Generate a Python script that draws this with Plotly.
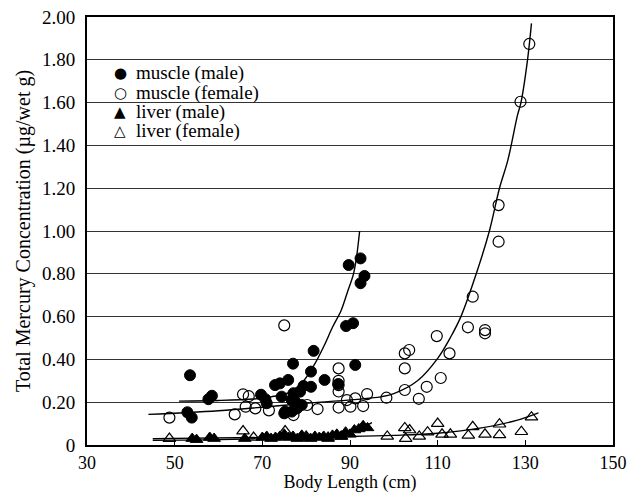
import plotly.graph_objects as go

# ---- data ----
male_muscle_x = [53.5, 52.9, 53.9, 57.7, 58.5, 69.7, 70.7, 71.0, 72.9, 74.0, 75.9, 77.0, 75.0, 74.4,
                 77.1, 78.6, 76.7, 77.5, 77.9, 75.2, 76.7, 79.0, 79.4, 81.1, 81.1, 81.7, 84.2,
                 87.3, 91.2, 89.1, 90.7, 89.7, 92.4, 93.3, 92.4]
male_muscle_y = [0.326, 0.153, 0.128, 0.214, 0.230, 0.235, 0.214, 0.195, 0.280, 0.288, 0.304, 0.380, 0.148, 0.226,
                 0.242, 0.249, 0.210, 0.202, 0.171, 0.156, 0.156, 0.187, 0.276, 0.343, 0.272, 0.440, 0.304,
                 0.285, 0.374, 0.556, 0.569, 0.841, 0.872, 0.790, 0.756]

female_muscle_x = [48.8, 63.7, 65.6, 66.9, 66.2, 68.4, 71.5, 75.0, 77.1, 80.2, 82.6, 87.4, 87.4, 87.4, 87.4,
                   87.4, 89.3, 91.2, 93.9, 90.1, 93.0, 98.3, 102.5, 102.5, 102.5, 103.5, 105.7, 107.5,
                   109.8, 110.7, 112.7, 116.9, 118.0, 120.8, 120.8, 123.9, 123.9, 128.9, 130.9]
female_muscle_y = [0.128, 0.143, 0.237, 0.228, 0.179, 0.171, 0.162, 0.559, 0.140, 0.187, 0.168, 0.358, 0.300, 0.280,
                   0.250, 0.175, 0.210, 0.218, 0.238, 0.179, 0.182, 0.221, 0.257, 0.358, 0.428, 0.444, 0.216,
                   0.272, 0.509, 0.313, 0.428, 0.550, 0.693, 0.537, 0.522, 0.950, 1.121, 1.604, 1.874]

male_liver_x = [54, 55, 58, 59, 66, 70, 71, 72, 73, 74, 75, 76, 77, 78, 79, 80, 81, 82, 83, 84,
                85, 86, 87, 88, 89, 90, 91, 92, 93, 94]
male_liver_y = [0.030, 0.025, 0.035, 0.030, 0.030, 0.035, 0.040, 0.030, 0.035, 0.040, 0.050, 0.035, 0.040,
                0.030, 0.045, 0.035, 0.030, 0.040, 0.035, 0.040, 0.030, 0.045, 0.050, 0.040, 0.060, 0.050,
                0.070, 0.075, 0.090, 0.080]

female_liver_x = [48.8, 65.6, 68.0, 75.2, 80.0, 85.0, 88.0, 98.5, 102.5, 102.7, 103.6, 105.8, 107.7, 110.0,
                  111.0, 112.9, 117.0, 118.0, 120.8, 124.1, 124.1, 129.1, 131.4]
female_liver_y = [0.030, 0.065, 0.035, 0.065, 0.040, 0.035, 0.040, 0.040, 0.080, 0.030, 0.070, 0.040, 0.060,
                  0.100, 0.050, 0.050, 0.045, 0.085, 0.050, 0.097, 0.047, 0.062, 0.130]

# fitted curves
male_muscle_fit_x = [51, 60, 68, 72, 76, 79, 81.7, 84, 86, 88, 89.5, 90.8, 91.5, 92.2]
male_muscle_fit_y = [0.205, 0.208, 0.215, 0.225, 0.245, 0.29, 0.37, 0.46, 0.55, 0.63, 0.72, 0.80, 0.88, 1.0]

female_muscle_fit_x = [44, 60, 80, 97, 100, 105.4, 110, 113, 115.3, 118.8, 121.8, 124.1, 126, 128.2, 129,
                       130.5, 131.4]
female_muscle_fit_y = [0.143, 0.160, 0.195, 0.225, 0.240, 0.30, 0.405, 0.506, 0.60, 0.80, 1.0, 1.2, 1.33, 1.54,
                       1.60, 1.80, 1.97]

male_liver_fit_x = [45, 60, 70, 80, 88, 92, 95]
male_liver_fit_y = [0.022, 0.025, 0.030, 0.038, 0.055, 0.075, 0.105]

female_liver_fit_x = [45, 70, 90, 100, 110, 120, 128, 133]
female_liver_fit_y = [0.030, 0.035, 0.040, 0.045, 0.055, 0.080, 0.115, 0.150]

series_names = ["muscle (male)", "muscle (female)", "liver (male)", "liver (female)"]
legend_glyphs = ["●", "○", "▲", "△"]

y_tick_vals = [0, 0.2, 0.4, 0.6, 0.8, 1.0, 1.2, 1.4, 1.6, 1.8, 2.0]
y_tick_text = ["0", "0.20", "0.40", "0.60", "0.80", "1.00", "1.20", "1.40", "1.60", "1.80", "2.00"]
x_tick_vals = [30, 50, 70, 90, 110, 130, 150]

FONT = "Liberation Serif, Times New Roman, serif"
line_style = dict(color="black", width=1.4, shape="spline")

fig = go.Figure()
for fx, fy in [(male_muscle_fit_x, male_muscle_fit_y), (female_muscle_fit_x, female_muscle_fit_y),
               (male_liver_fit_x, male_liver_fit_y), (female_liver_fit_x, female_liver_fit_y)]:
    fig.add_trace(go.Scatter(x=fx, y=fy, mode="lines", line=line_style, showlegend=False, hoverinfo="skip"))

marker_specs = [
    dict(symbol="circle", size=11, color="black", line=dict(color="black", width=1)),
    dict(symbol="circle-open", size=11, color="black", line=dict(color="black", width=1.2)),
    dict(symbol="triangle-up", size=11, color="black", line=dict(color="black", width=1)),
    dict(symbol="triangle-up-open", size=11, color="black", line=dict(color="black", width=1.2)),
]
series = [(male_muscle_x, male_muscle_y), (female_muscle_x, female_muscle_y),
          (male_liver_x, male_liver_y), (female_liver_x, female_liver_y)]
for (sx, sy), name, mk in zip(series, series_names, marker_specs):
    fig.add_trace(go.Scatter(x=sx, y=sy, mode="markers", name=name, marker=mk, showlegend=False))

# legend drawn as text rows (compact spacing like the original)
legend_rows_y = [0.869, 0.823, 0.778, 0.734]
for gy, glyph, name in zip(legend_rows_y, legend_glyphs, series_names):
    fig.add_annotation(xref="paper", yref="paper", x=0.063, y=gy, text=glyph, showarrow=False,
                       xanchor="center", yanchor="middle",
                       font=dict(family="DejaVu Sans", size=15, color="black"))
    fig.add_annotation(xref="paper", yref="paper", x=0.089, y=gy, text=name, showarrow=False,
                       xanchor="left", yanchor="middle",
                       font=dict(family=FONT, size=19, color="black"))

fig.update_layout(
    width=630, height=485,
    margin=dict(l=79, r=25, t=9, b=48, autoexpand=False),
    paper_bgcolor="white", plot_bgcolor="white",
    font=dict(family=FONT, size=19, color="black"),
    showlegend=False,
)
fig.update_xaxes(range=[30, 150], tickvals=x_tick_vals, showgrid=False, zeroline=False, automargin=False,
                 showline=True, linecolor="black", linewidth=2, mirror=True,
                 ticks="inside", ticklen=5, tickcolor="black", ticklabeloverflow="allow",
                 title=dict(text="Body Length (cm)", font=dict(family=FONT, size=18), standoff=3),
                 tickfont=dict(family=FONT, size=18))
fig.update_yaxes(range=[0, 2.0], tickvals=y_tick_vals, ticktext=y_tick_text, automargin=False,
                 showgrid=True, gridcolor="#333333", gridwidth=1, zeroline=False,
                 showline=True, linecolor="black", linewidth=2, mirror=True, ticks="",
                 ticklabelstandoff=6, ticklabeloverflow="allow",
                 title=dict(text="Total Mercury Concentration (µg/wet g)", font=dict(family=FONT, size=20), standoff=6),
                 tickfont=dict(family=FONT, size=19))

fig.write_html("out.html")
